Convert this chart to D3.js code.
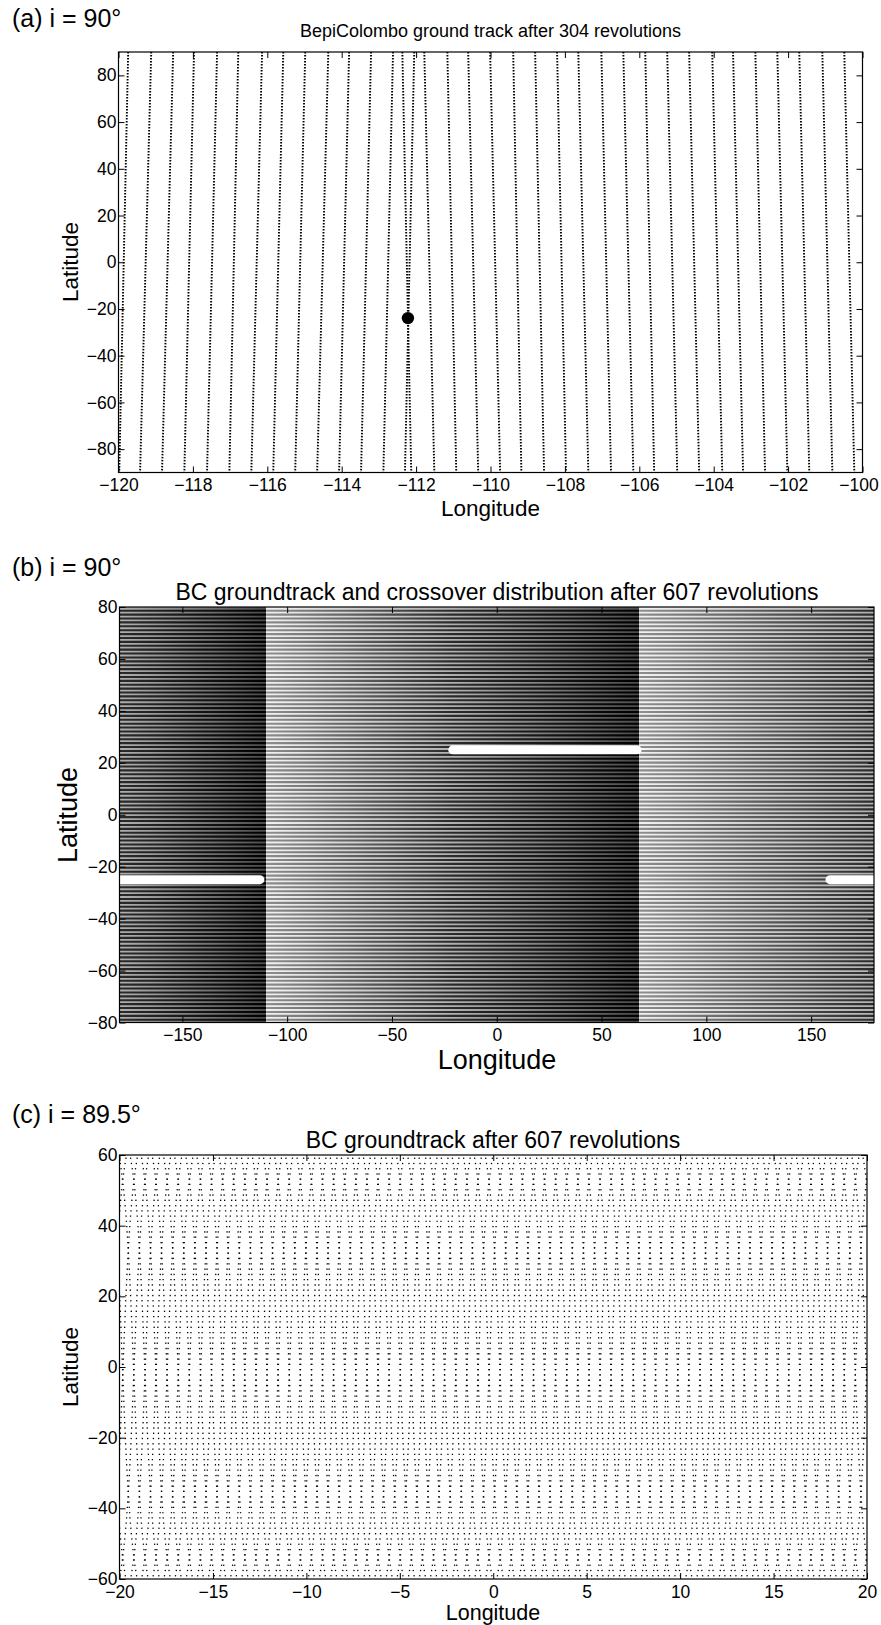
<!DOCTYPE html>
<html><head><meta charset="utf-8">
<script src="https://cdn.jsdelivr.net/npm/d3@7"></script>
<style>
body{margin:0;background:#fff;}
</style></head><body>
<svg id="chart" width="881" height="1625" xmlns="http://www.w3.org/2000/svg"></svg>
<script>
// ================= DATA =================
// ---- Panel (a) ----
const aXTicks = [-120,-118,-116,-114,-112,-110,-108,-106,-104,-102,-100];
const aYTicks = [-80,-60,-40,-20,0,20,40,60,80];
// descending passes: longitude at lat +90 (top) and -90 (bottom)
const aDescTop    = [-119.74,-119.12,-118.53,-117.97,-117.35,-116.78,-116.14,-115.57,-114.98,-114.36,-113.80,-113.21,-112.62,-112.05];
const aDescBottom = [-119.98,-119.42,-118.83,-118.23,-117.62,-117.02,-116.43,-115.84,-115.25,-114.66,-114.07,-113.48,-112.88,-112.30];
// ascending passes
const aAscTop    = [-112.37,-111.78,-111.16,-110.60,-110.01,-109.39,-108.80,-108.21,-107.64,-107.02,-106.43,-105.84,-105.25,-104.66,-104.04,-103.48,-102.88,-102.29,-101.70,-101.08,-100.49];
const aAscBottom = [-112.13,-111.51,-110.92,-110.33,-109.74,-109.17,-108.56,-107.97,-107.37,-106.76,-106.16,-105.60,-104.98,-104.39,-103.77,-103.21,-102.62,-102.02,-101.43,-100.81,-100.22];
const aCrossLon = [-112.22];
const aCrossLat = [-23.9];

// ---- Panel (b) ----
const bXTicks = [-150,-100,-50,0,50,100,150];
const bYTicks = [-80,-60,-40,-20,0,20,40,60,80];
const bBandStart = [-180,-110,68];
const bBandEnd   = [-110,68,180];
const bBandDark0 = [0.5,0,0];     // track-overlap darkness at band start
const bBandDark1 = [1,1,0.5];     // at band end
// latitudes of the sampled track points (rows)
const bRowLats = [78.57,77.07,75.57,74.07,72.57,71.07,69.57,68.07,66.57,65.07,63.57,62.07,60.57,59.07,57.57,56.07,54.57,53.07,51.57,50.07,
  48.57,47.07,45.57,44.07,42.57,41.07,39.57,38.07,36.57,35.07,33.57,32.07,30.57,29.07,27.57,26.07,24.57,23.07,21.57,20.07,
  18.57,17.07,15.57,14.07,12.57,11.07,9.57,8.07,6.57,5.07,3.57,2.07,0.57,-0.93,-2.43,-3.93,-5.43,-6.93,-8.43,-9.93,
  -11.43,-12.93,-14.43,-15.93,-17.43,-18.93,-20.43,-21.93,-23.43,-24.93,-26.43,-27.93,-29.43,-30.93,-32.43,-33.93,-35.43,-36.93,-38.43,-39.93,
  -41.43,-42.93,-44.43,-45.93,-47.43,-48.93,-50.43,-51.93,-53.43,-54.93,-56.43,-57.93,-59.43,-60.93,-62.43,-63.93,-65.43,-66.93,-68.43,-69.93,
  -71.43,-72.93,-74.43,-75.93,-77.43,-78.93];
const bGapLat  = [25,-25,-25];
const bGapFrom = [-21,159,-180];
const bGapTo   = [67,180,-113];

// ---- Panel (c) ----
const cXTicks = [-20,-15,-10,-5,0,5,10,15,20];
const cYTicks = [-60,-40,-20,0,20,40,60];
// equator-crossing longitudes of ascending / descending passes
const cAscNodes = [-21.00,-20.41,-19.81,-19.22,-18.62,-18.03,-17.44,-16.84,-16.25,-15.65,-15.06,-14.47,-13.87,-13.28,-12.68,-12.09,
  -11.50,-10.90,-10.31,-9.71,-9.12,-8.53,-7.93,-7.34,-6.74,-6.15,-5.56,-4.96,-4.37,-3.77,-3.18,-2.59,-1.99,-1.40,-0.80,-0.21,
  0.38,0.98,1.57,2.17,2.76,3.35,3.95,4.54,5.14,5.73,6.32,6.92,7.51,8.11,8.70,9.29,9.89,10.48,11.08,11.67,
  12.26,12.86,13.45,14.05,14.64,15.23,15.83,16.42,17.02,17.61,18.20,18.80,19.39,19.99,20.58,21.17];
const cDescNodes = [-21.03,-20.44,-19.84,-19.25,-18.65,-18.06,-17.47,-16.87,-16.28,-15.68,-15.09,-14.50,-13.90,-13.31,-12.71,-12.12,
  -11.53,-10.93,-10.34,-9.74,-9.15,-8.56,-7.96,-7.37,-6.77,-6.18,-5.59,-4.99,-4.40,-3.80,-3.21,-2.62,-2.02,-1.43,-0.83,-0.24,
  0.35,0.95,1.54,2.14,2.73,3.32,3.92,4.51,5.11,5.70,6.29,6.89,7.48,8.08,8.67,9.26,9.86,10.45,11.05,11.64,
  12.23,12.83,13.42,14.02,14.61,15.20,15.80,16.39,16.99,17.58,18.17,18.77,19.36,19.96,20.55,21.14];
// longitude offset of a pass from its node, versus latitude
const cShiftLat  = [60,55,50,45,40,30,20,10,0,-10,-20,-30,-40,-45,-50,-55,-60];
const cAscShift  = [0.782,0.637,0.526,0.437,0.364,0.247,0.154,0.074,0,-0.074,-0.154,-0.247,-0.364,-0.437,-0.526,-0.637,-0.782];
const cDescShift = [-0.782,-0.637,-0.526,-0.437,-0.364,-0.247,-0.154,-0.074,0,0.074,0.154,0.247,0.364,0.437,0.526,0.637,0.782];
const cRowFirst = 59.07;   // first sampled latitude below the top
const cRowStep = 1.5;      // sampling step along a pass (deg latitude)

// ================= DRAWING =================
const FONT = '"Liberation Sans", Arial, Helvetica, sans-serif';
const svg = d3.select('#chart');
const defs = svg.append('defs');
const fmt = d => d < 0 ? '\u2212' + Math.abs(d) : String(d);

function addText(x, y, s, size, anchor, rot) {
  const t = svg.append('text').attr('x', x).attr('y', y).text(s)
    .attr('font-family', FONT).attr('font-size', size).attr('fill', '#000')
    .attr('text-anchor', anchor || 'start');
  if (rot) t.attr('transform', `rotate(${rot},${x},${y})`);
  return t;
}

function drawAxes(x, y, xt, yt) {
  const [xl, xr] = x.range(); const [yb, ytp] = y.range();
  const g = svg.append('g');
  g.append('g').attr('class', 'xax').attr('transform', `translate(0,${yb})`)
    .call(d3.axisBottom(x).tickValues(xt).tickSizeInner(-6).tickSizeOuter(0).tickPadding(6.5).tickFormat(fmt));
  g.append('g').attr('transform', `translate(0,${ytp})`)
    .call(d3.axisTop(x).tickValues(xt).tickSizeInner(-6).tickSizeOuter(0).tickFormat(''));
  g.append('g').attr('transform', `translate(${xl},0)`)
    .call(d3.axisLeft(y).tickValues(yt).tickSizeInner(-6).tickSizeOuter(0).tickPadding(2).tickFormat(fmt));
  g.append('g').attr('transform', `translate(${xr},0)`)
    .call(d3.axisRight(y).tickValues(yt).tickSizeInner(-6).tickSizeOuter(0).tickFormat(''));
  g.selectAll('.domain').remove();
  g.selectAll('.tick text').attr('font-family', FONT).attr('font-size', 17.5).attr('fill', '#000');
  g.selectAll('.tick line').attr('stroke', '#000').attr('stroke-width', 1);
  g.append('rect').attr('x', xl).attr('y', ytp).attr('width', xr - xl).attr('height', yb - ytp)
    .attr('fill', 'none').attr('stroke', '#000').attr('stroke-width', 1.2);
  return g;
}

function clip(id, x, y) {
  const [xl, xr] = x.range(); const [yb, ytp] = y.range();
  defs.append('clipPath').attr('id', id).append('rect')
    .attr('x', xl).attr('y', ytp).attr('width', xr - xl).attr('height', yb - ytp);
  return `url(#${id})`;
}

// ---------- Panel (a) ----------
{
  const x = d3.scaleLinear().domain([-120, -100]).range([118.5, 862.5]);
  const y = d3.scaleLinear().domain([-90, 90]).range([472.5, 52]);
  const g = svg.append('g').attr('clip-path', clip('ca', x, y));
  const tracks = aDescTop.map((t, i) => [t, aDescBottom[i]])
    .concat(aAscTop.map((t, i) => [t, aAscBottom[i]]));
  g.selectAll('line.trk').data(tracks).join('line').attr('class', 'trk')
    .attr('x1', d => x(d[0])).attr('y1', y(90))
    .attr('x2', d => x(d[1])).attr('y2', y(-90))
    .attr('stroke', '#000').attr('stroke-width', 1.9).attr('stroke-dasharray', '1.5 1.5');
  g.selectAll('circle').data(aCrossLon).join('circle')
    .attr('cx', d => x(d)).attr('cy', (d, i) => y(aCrossLat[i])).attr('r', 6.2).attr('fill', '#000');
  const ax = drawAxes(x, y, aXTicks, aYTicks);
  ax.select('.xax').selectAll('.tick text').filter(d => d === -100).attr('dx', -4);
  addText(12, 27, '(a) i = 90\u00b0', 25);
  addText(490.5, 36.5, 'BepiColombo ground track after 304 revolutions', 18, 'middle');
  addText(490.5, 515.5, 'Longitude', 22.5, 'middle');
  addText(78, 262, 'Latitude', 22.5, 'middle', -90);
}

// ---------- Panel (b) ----------
{
  const x = d3.scaleLinear().domain([-180, 180]).range([119.5, 874]);
  const y = d3.scaleLinear().domain([-80, 80]).range([1022.5, 607]);
  const g = svg.append('g').attr('clip-path', clip('cb', x, y));
  const stripeCol = d3.scaleLinear().domain([0, 0.5, 1]).range(['#8e8e8e', '#2a2a2a', '#000000']);
  const gapCol = d3.scaleLinear().domain([0, 0.5, 1]).range(['#f2f2f2', '#b0b0b0', '#4a4a4a']);
  bBandStart.forEach((s, i) => {
    const e = bBandEnd[i];
    const mk = (id, col) => {
      const gr = defs.append('linearGradient').attr('id', id).attr('gradientUnits', 'userSpaceOnUse')
        .attr('x1', x(s)).attr('x2', x(e)).attr('y1', 0).attr('y2', 0);
      [0, 0.25, 0.5, 0.75, 1].forEach(o => {
        const d = bBandDark0[i] + (bBandDark1[i] - bBandDark0[i]) * o;
        gr.append('stop').attr('offset', o).attr('stop-color', col(d));
      });
    };
    mk('bgap' + i, gapCol); mk('bstr' + i, stripeCol);
    g.append('rect').attr('x', x(s)).attr('y', y(80)).attr('width', x(e) - x(s)).attr('height', y(-80) - y(80))
      .attr('fill', `url(#bgap${i})`);
    g.append('path').attr('d', bRowLats.map(l => `M${x(s)},${y(l)}H${x(e)}`).join(''))
      .attr('stroke', `url(#bstr${i})`).attr('stroke-width', 2.1).attr('fill', 'none');
  });
  g.selectAll('line.gap').data(bGapLat).join('line').attr('class', 'gap')
    .attr('x1', (d, i) => x(bGapFrom[i])).attr('x2', (d, i) => x(bGapTo[i]))
    .attr('y1', d => y(d)).attr('y2', d => y(d))
    .attr('stroke', '#fff').attr('stroke-width', 9).attr('stroke-linecap', 'round');
  drawAxes(x, y, bXTicks, bYTicks);
  addText(12, 576, '(b) i = 90\u00b0', 25);
  addText(497, 599.5, 'BC groundtrack and crossover distribution after 607 revolutions', 23, 'middle');
  addText(497, 1068.5, 'Longitude', 27, 'middle');
  addText(77, 815, 'Latitude', 27, 'middle', -90);
}

// ---------- Panel (c) ----------
{
  const x = d3.scaleLinear().domain([-20, 20]).range([119.5, 867]);
  const y = d3.scaleLinear().domain([-60, 60]).range([1579, 1155]);
  const g = svg.append('g').attr('clip-path', clip('cc', x, y));
  const period = cRowStep * (y(0) - y(1));
  const startDist = (60 - cRowFirst) * (y(0) - y(1));
  const dl = 1.3;
  const off = period - (startDist - dl / 2);
  const line = d3.line().x(d => x(d[0])).y(d => y(d[1])).curve(d3.curveNatural);
  const tracks = cAscNodes.map(n => cShiftLat.map((l, j) => [n + cAscShift[j], l]))
    .concat(cDescNodes.map(n => cShiftLat.map((l, j) => [n + cDescShift[j], l])));
  g.selectAll('path.trk').data(tracks).join('path').attr('class', 'trk')
    .attr('d', line).attr('fill', 'none').attr('stroke', '#000').attr('stroke-width', 1.3)
    .attr('stroke-dasharray', `${dl},${period - dl}`).attr('stroke-dashoffset', off);
  drawAxes(x, y, cXTicks, cYTicks);
  addText(12, 1123, '(c) i = 89.5\u00b0', 25);
  addText(493, 1148, 'BC groundtrack after 607 revolutions', 23, 'middle');
  addText(493, 1620, 'Longitude', 21.5, 'middle');
  addText(78, 1367, 'Latitude', 22.5, 'middle', -90);
}
</script>
</body></html>
